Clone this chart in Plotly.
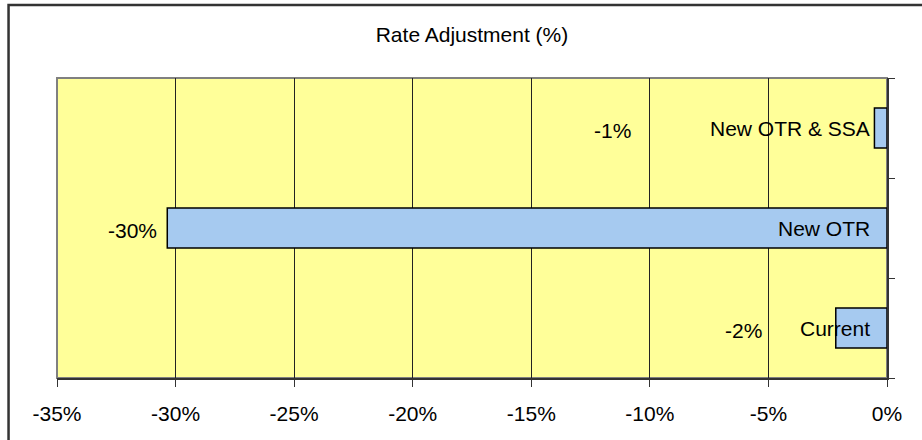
import plotly.graph_objects as go

categories = ["Current", "New OTR", "New OTR & SSA"]
values = [-2.16, -30.35, -0.53]
value_labels = ["-2%", "-30%", "-1%"]
# right-edge positions (in axis %) of the value label texts
value_label_pos = [-5.2, -30.7, -10.7]
tick_vals = [-35, -30, -25, -20, -15, -10, -5, 0]
tick_text = ["-35%", "-30%", "-25%", "-20%", "-15%", "-10%", "-5%", "0%"]

FONT = "Liberation Sans, Arial, Helvetica, sans-serif"
FS = 21

ypos = list(range(len(categories)))

fig = go.Figure()
fig.add_trace(go.Bar(
    x=values, y=ypos, orientation="h", width=0.4,
    marker=dict(color="#A6CAF0", line=dict(color="#000000", width=1.5)),
    hoverinfo="skip",
))

annotations = []
for yi, cat in zip(ypos, categories):
    annotations.append(dict(x=0, y=yi, xref="x", yref="y", text=cat, showarrow=False,
                            xanchor="right", yanchor="middle", xshift=-15,
                            font=dict(family=FONT, size=FS, color="black")))
for yi, lab, px in zip(ypos, value_labels, value_label_pos):
    annotations.append(dict(x=px, y=yi, xref="x", yref="y", text=lab, showarrow=False,
                            xanchor="right", yanchor="middle", yshift=-2,
                            font=dict(family=FONT, size=FS, color="black")))

fig.update_layout(
    width=922, height=440,
    margin=dict(l=56.5, r=34.7, t=78, b=62),
    paper_bgcolor="white", plot_bgcolor="#FFFF99",
    showlegend=False,
    title=dict(text="Rate Adjustment (%)", x=0.5, xref="paper", xanchor="center",
               y=1 - 35 / 440, yref="container", yanchor="middle",
               font=dict(family=FONT, size=FS, color="black")),
    font=dict(family=FONT, size=FS, color="black"),
    annotations=annotations,
    shapes=[
        dict(type="rect", xref="paper", yref="paper", x0=0, x1=1, y0=0, y1=1,
             line=dict(color="#808080", width=2), layer="below"),
        dict(type="rect", xref="paper", yref="paper",
             x0=-(56.5 - 8) / 830.8, x1=1.2, y0=-0.5, y1=1 + (78 - 5) / 300,
             line=dict(color="#333333", width=2.5), layer="above"),
    ],
)
fig.update_xaxes(
    range=[-35, 0], tickvals=tick_vals, ticktext=tick_text,
    showgrid=True, gridcolor="#222222", gridwidth=1,
    zeroline=False, showline=True, linecolor="#333333", linewidth=2,
    ticks="outside", ticklen=7, tickcolor="#333333", tickwidth=1,
    ticklabelstandoff=9,
    tickfont=dict(family=FONT, size=FS, color="black"), fixedrange=True,
)
fig.update_yaxes(
    range=[-0.5, 2.5], tickvals=[-0.5, 0.5, 1.5, 2.5], showticklabels=False,
    side="right", showgrid=False, zeroline=False,
    showline=True, linecolor="#333333", linewidth=2,
    ticks="outside", ticklen=6, tickcolor="#333333", tickwidth=1, fixedrange=True,
)

fig.write_html("out.html")
